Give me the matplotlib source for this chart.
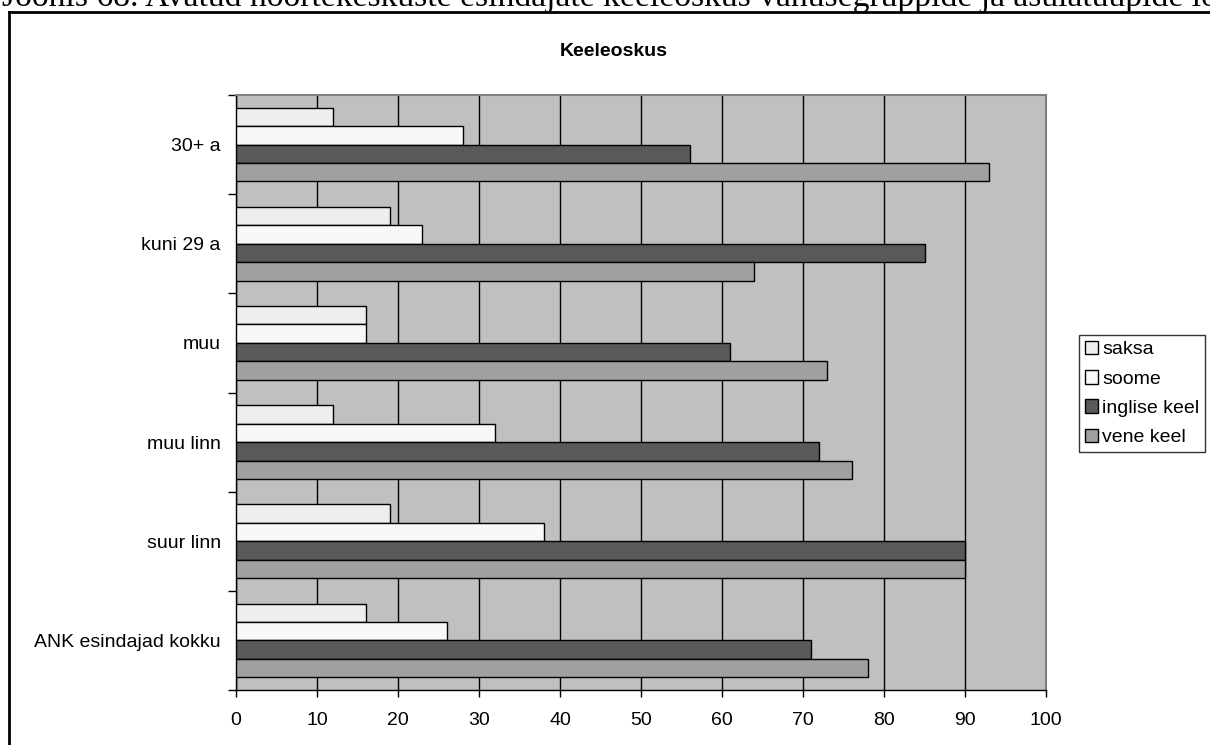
import numpy as np
import matplotlib.pyplot as plt
from matplotlib.lines import Line2D

plt.rcParams['font.family'] = ['Liberation Sans', 'DejaVu Sans']

categories = ["30+ a", "kuni 29 a", "muu", "muu linn", "suur linn", "ANK esindajad kokku"]
series = ["saksa", "soome", "inglise keel", "vene keel"]
saksa = [12, 19, 16, 12, 19, 16]
soome = [28, 23, 16, 32, 38, 26]
inglise = [56, 85, 61, 72, 90, 71]
vene = [93, 64, 73, 76, 90, 78]
xticks = [0, 10, 20, 30, 40, 50, 60, 70, 80, 90, 100]

colors = ["#eeeeee", "#f8f8f8", "#595959", "#a0a0a0"]

W, H = 1210, 745
fig = plt.figure(figsize=(W / 100, H / 100), dpi=100)
ax = fig.add_axes([236 / W, 1 - 690 / H, (1046 - 236) / W, (690 - 95) / H])
ax.set_facecolor("#c0c0c0")

y = np.arange(len(categories))
h = 0.186
for k, (vals, name) in enumerate(zip([saksa, soome, inglise, vene], series)):
    ax.barh(y + (k - 1.5) * h, vals, height=h, color=colors[k],
            edgecolor="black", linewidth=1, label=name, zorder=3)

ax.set_xlim(0, 100)
ax.set_ylim(len(categories) - 0.5, -0.5)
ax.set_xticks(xticks)
ax.set_xticklabels([str(t) for t in xticks], fontsize=14)
ax.tick_params(axis="x", length=5, width=1, pad=11)
ax.set_yticks(y)
ax.set_yticklabels(categories, fontsize=14)
ax.tick_params(axis="y", which="major", length=0, pad=11)
ax.set_yticks(np.arange(len(categories) + 1) - 0.5, minor=True)
ax.tick_params(axis="y", which="minor", length=6, width=1)
ax.xaxis.grid(True, color="black", linewidth=1, zorder=1)
ax.set_axisbelow(True)
for s in ["top", "right"]:
    ax.spines[s].set_color("#808080")
    ax.spines[s].set_linewidth(1.5)
for s in ["left", "bottom"]:
    ax.spines[s].set_color("black")
    ax.spines[s].set_linewidth(1)

fig.text(614 / W, 1 - 52 / H, "Keeleoskus", ha="center", va="center",
         fontsize=14, fontweight="bold")

leg = fig.legend(loc="upper left", bbox_to_anchor=(1079 / W, 1 - 335 / H),
                 fontsize=14, frameon=True, fancybox=False,
                 handlelength=0.7, handleheight=0.7, handletextpad=0.2,
                 labelspacing=0.6, borderpad=0.3, borderaxespad=0)
leg.get_frame().set_edgecolor("black")
leg.get_frame().set_linewidth(1)

# caption of the page, cut off at the top
fig.text(2 / W, 1 - 6 / H, "Joonis 68. Avatud noortekeskuste esindajate keeleoskus "
         "vanusegruppide ja asulatüüpide lõikes", ha="left", va="baseline",
         fontsize=24.2, family=["Liberation Serif", "DejaVu Serif"])

# frame around the chart
fig.add_artist(Line2D([9 / W, 9 / W], [0, 1 - 12 / H], color="black", lw=2))
fig.add_artist(Line2D([9 / W, 1], [1 - 12 / H, 1 - 12 / H], color="black", lw=2))

fig.savefig("out.png", dpi=100)
